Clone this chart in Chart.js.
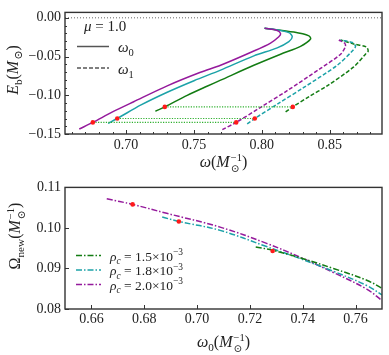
<!DOCTYPE html>
<html><head><meta charset="utf-8">
<script src="https://cdn.jsdelivr.net/npm/chart.js@4.4.1/dist/chart.umd.min.js"></script>
<style>
html,body{margin:0;padding:0;background:#fff;width:389px;height:355px;overflow:hidden}
canvas{position:absolute;left:0}
#top{top:0}
#bot{top:175px}
</style></head><body>
<canvas id="top" width="389" height="175"></canvas>
<canvas id="bot" width="389" height="180"></canvas>
<script>
// ---------- DATA ----------
// Top panel: binding energy vs frequency, mu = 1.0
const topXRange = [0.6550, 0.8885];
const topYRange = [-0.150, 0.007];
const topXTicks = [0.70, 0.75, 0.80, 0.85];
const topYTicks = [0.00, -0.05, -0.10, -0.15];

// rho_c = 2.0e-3 (purple)
const w0_rho20 = [0.6655, 0.6755, 0.6900, 0.7056, 0.7303, 0.7548, 0.7696, 0.7941, 0.8064, 0.8125, 0.8138, 0.8113, 0.8020];
const Eb0_rho20 = [-0.1436, -0.1350, -0.1215, -0.1083, -0.0878, -0.0703, -0.0613, -0.0429, -0.0326, -0.0245, -0.0204, -0.0163, -0.0135];
const w1_rho20 = [0.7709, 0.7811, 0.8000, 0.8187, 0.8432, 0.8580, 0.8616, 0.8609, 0.8567];
const Eb1_rho20 = [-0.1443, -0.1350, -0.1146, -0.0940, -0.0654, -0.0470, -0.0368, -0.0326, -0.0286];
// rho_c = 1.8e-3 (cyan)
const w0_rho18 = [0.6867, 0.6935, 0.7110, 0.7303, 0.7500, 0.7696, 0.7941, 0.8113, 0.8199, 0.8224, 0.8199, 0.8064, 0.8020];
const Eb0_rho18 = [-0.1362, -0.1300, -0.1125, -0.0961, -0.0812, -0.0675, -0.0491, -0.0388, -0.0307, -0.0245, -0.0191, -0.0142, -0.0135];
const w1_rho18 = [0.7892, 0.7948, 0.8120, 0.8309, 0.8555, 0.8666, 0.8690, 0.8666, 0.8580];
const Eb1_rho18 = [-0.1369, -0.1300, -0.1107, -0.0899, -0.0613, -0.0429, -0.0368, -0.0319, -0.0286];
// rho_c = 1.5e-3 (green)
const w0_rho15 = [0.7216, 0.7285, 0.7450, 0.7600, 0.7696, 0.7941, 0.8138, 0.8285, 0.8359, 0.8347, 0.8236, 0.8020];
const Eb0_rho15 = [-0.1206, -0.1150, -0.1001, -0.0880, -0.0805, -0.0613, -0.0470, -0.0368, -0.0274, -0.0233, -0.0184, -0.0135];
const w1_rho15 = [0.8175, 0.8228, 0.8350, 0.8481, 0.8677, 0.8763, 0.8783, 0.8769, 0.8677, 0.8580];
const Eb1_rho15 = [-0.1215, -0.1150, -0.1015, -0.0878, -0.0633, -0.0470, -0.0429, -0.0375, -0.0338, -0.0286];

// marked states (purple, cyan, green)
const markW0 = [0.6755, 0.6935, 0.7285];
const markW1 = [0.7811, 0.7948, 0.8228];
const markEb = [-0.135, -0.130, -0.115];

// Bottom panel: Omega_new vs omega_0
const botXRange = [0.65, 0.77];
const botYRange = [0.08, 0.11];
const botXTicks = [0.66, 0.68, 0.70, 0.72, 0.74, 0.76];
const botYTicks = [0.08, 0.09, 0.10, 0.11];
const seriesLabels = ['1.5', '1.8', '2.0'];

const bw_rho20 = [0.6658, 0.6756, 0.6885, 0.7087, 0.7263, 0.7396, 0.7516, 0.7642, 0.7700];
const bO_rho20 = [0.1072, 0.1058, 0.1036, 0.1002, 0.0962, 0.0926, 0.0890, 0.0849, 0.0821];
const bw_rho18 = [0.6868, 0.6931, 0.7087, 0.7263, 0.7396, 0.7516, 0.7642, 0.7700];
const bO_rho18 = [0.1027, 0.1016, 0.0994, 0.0954, 0.0923, 0.0893, 0.0858, 0.0835];
const bw_rho15 = [0.7222, 0.7286, 0.7396, 0.7516, 0.7642, 0.7700];
const bO_rho15 = [0.0953, 0.0945, 0.0925, 0.0900, 0.0871, 0.0851];
const bMarkW = [0.6756, 0.6931, 0.7286];
const bMarkO = [0.1058, 0.1016, 0.0943];

// ---------- STYLE ----------
const PURPLE = '#951a9c', CYAN = '#1ca2a8', GREEN = '#137c13', RED = '#ff1a1a';
const CONNECT = '#2fb02f';
const SERIF = "'Liberation Serif','DejaVu Serif',serif";
const tickFont = {family: SERIF, size: 14};
const TXT = '#222';

const pts = (xs, ys) => xs.map((x, i) => ({x, y: ys[i]}));
const fmtNum = (v, d) => (v < -1e-9 ? '\u2212' : '') + Math.abs(v).toFixed(d);

function fontStr(it, s) { return (it ? 'italic ' : '') + s.toFixed(1) + 'px ' + SERIF; }
function drawRich(ctx, parts, cx, cy, S, align) {
  const items = parts.map(p => {
    if (p.stack) {
      ctx.font = fontStr(false, S * 0.66);
      return {p, w: Math.max(ctx.measureText(p.sub).width, ctx.measureText(p.sup).width)};
    }
    const s = (p.sub || p.sup) ? S * 0.7 : S;
    ctx.font = fontStr(p.it, s);
    return {p, w: ctx.measureText(p.t).width + (p.sp || 0)};
  });
  const total = items.reduce((a, b) => a + b.w, 0);
  let x = align === 'left' ? cx : cx - total / 2;
  ctx.textAlign = 'left'; ctx.textBaseline = 'alphabetic'; ctx.fillStyle = TXT;
  const base = cy + S * 0.33;
  for (const it of items) {
    const p = it.p;
    if (p.stack) {
      ctx.font = fontStr(false, S * 0.66);
      ctx.fillText(p.sub, x, base + S * 0.28);
      ctx.fillText(p.sup, x, base - S * 0.42);
    } else {
      const s = (p.sub || p.sup) ? S * 0.7 : S;
      ctx.font = fontStr(p.it, s);
      const dy = p.sub ? S * 0.25 : (p.sup ? -S * 0.42 : 0);
      ctx.fillText(p.t, x, base + dy);
    }
    x += it.w;
  }
}
function drawRotRich(ctx, parts, cx, cy, S) {
  ctx.save(); ctx.translate(cx, cy); ctx.rotate(-Math.PI / 2);
  drawRich(ctx, parts, 0, 0, S, 'center'); ctx.restore();
}
function drawFrameAndTicks(chart, xMinorStep, yMinorStep) {
  const {ctx, chartArea: a, scales: {x, y}} = chart;
  ctx.save();
  ctx.strokeStyle = '#333'; ctx.lineWidth = 1; ctx.setLineDash([]);
  ctx.beginPath();
  x.ticks.forEach(t => { const px = Math.round(x.getPixelForValue(t.value)) + 0.5; ctx.moveTo(px, a.bottom); ctx.lineTo(px, a.bottom - 4); });
  y.ticks.forEach(t => { const py = Math.round(y.getPixelForValue(t.value)) + 0.5; ctx.moveTo(a.left, py); ctx.lineTo(a.left + 4, py); });
  if (xMinorStep) {
    for (let v = Math.ceil(x.min / xMinorStep) * xMinorStep; v <= x.max; v += xMinorStep) {
      const px = Math.round(x.getPixelForValue(v)) + 0.5; ctx.moveTo(px, a.bottom); ctx.lineTo(px, a.bottom - 2);
    }
  }
  if (yMinorStep) {
    for (let v = Math.ceil(y.min / yMinorStep) * yMinorStep; v <= y.max; v += yMinorStep) {
      const py = Math.round(y.getPixelForValue(v)) + 0.5; ctx.moveTo(a.left, py); ctx.lineTo(a.left + 2, py);
    }
  }
  ctx.stroke();
  ctx.strokeStyle = '#333'; ctx.lineWidth = 1.4;
  ctx.strokeRect(a.left, a.top, a.right - a.left, a.bottom - a.top);
  ctx.restore();
}

const lineDS = (xs, ys, color, dash, extra) => Object.assign({
  data: pts(xs, ys), showLine: true, borderColor: color, backgroundColor: color,
  borderWidth: 1.5, borderDash: dash || [], pointRadius: 0, tension: 0.3, fill: false
}, extra || {});
const dotDS = (xs, ys) => ({
  data: pts(xs, ys), showLine: false, pointRadius: 2.3, pointStyle: 'circle',
  backgroundColor: RED, borderColor: RED, borderWidth: 0
});

const scaleCommon = (range, ticks, fmtD, fitKey, fitVal, pad) => ({
  type: 'linear', min: range[0], max: range[1],
  afterFit: s => { s[fitKey] = fitVal; },
  afterBuildTicks: s => { s.ticks = ticks.map(v => ({value: v})); },
  grid: {display: false, drawTicks: false}, border: {display: false},
  ticks: {padding: pad, font: tickFont, color: TXT, maxRotation: 0, autoSkip: false, callback: v => fmtNum(v, fmtD)}
});

// ---------- TOP CHART ----------
const topDecor = {
  id: 'topDecor',
  beforeDatasetsDraw(chart) {
    const {ctx, chartArea: a, scales: {y}} = chart;
    const py = y.getPixelForValue(0);
    ctx.save(); ctx.strokeStyle = '#555'; ctx.lineWidth = 0.9; ctx.setLineDash([1, 2]);
    ctx.beginPath(); ctx.moveTo(a.left, py); ctx.lineTo(a.right, py); ctx.stroke(); ctx.restore();
  },
  afterDraw(chart) {
    const {ctx, chartArea: a} = chart;
    drawFrameAndTicks(chart, 0.01, 0.01);
    drawRich(ctx, [{t: '\u03c9', it: 1}, {t: '('}, {t: 'M', it: 1, sp: 1}, {stack: 1, sub: '\u2299', sup: '\u22121'}, {t: ')'}],
      (a.left + a.right) / 2, 162, 16, 'center');
    drawRotRich(ctx, [{t: 'E', it: 1}, {t: 'b', sub: 1}, {t: '('}, {t: 'M', it: 1, sp: 1}, {t: '\u2299', sub: 1}, {t: ')'}], 13, 70, 16);
    ctx.save();
    drawRich(ctx, [{t: '\u03bc', it: 1}, {t: ' = 1.0'}], 84, 26, 15, 'left');
    ctx.strokeStyle = '#555'; ctx.lineWidth = 1.5;
    ctx.beginPath(); ctx.moveTo(77, 46.5); ctx.lineTo(109, 46.5); ctx.stroke();
    ctx.setLineDash([4, 2]);
    ctx.beginPath(); ctx.moveTo(77, 68); ctx.lineTo(109, 68); ctx.stroke();
    ctx.setLineDash([]);
    drawRich(ctx, [{t: '\u03c9', it: 1}, {t: '0', sub: 1}], 118, 47, 15, 'left');
    drawRich(ctx, [{t: '\u03c9', it: 1}, {t: '1', sub: 1}], 118, 69, 15, 'left');
    ctx.restore();
  }
};

const connectDS = markEb.map((e, i) => ({
  data: [{x: markW0[i], y: e}, {x: markW1[i], y: e}], showLine: true, borderColor: CONNECT,
  borderWidth: 1.1, borderDash: [1.2, 1.4], pointRadius: 0, fill: false
}));

new Chart(document.getElementById('top'), {
  type: 'scatter',
  data: {datasets: [
    dotDS(markW0, markEb), dotDS(markW1, markEb),
    ...connectDS,
    lineDS(w0_rho20, Eb0_rho20, PURPLE), lineDS(w0_rho18, Eb0_rho18, CYAN), lineDS(w0_rho15, Eb0_rho15, GREEN),
    lineDS(w1_rho20, Eb1_rho20, PURPLE, [4, 2]), lineDS(w1_rho18, Eb1_rho18, CYAN, [4, 2]), lineDS(w1_rho15, Eb1_rho15, GREEN, [4, 2])
  ]},
  options: {
    responsive: false, animation: false,
    layout: {padding: {top: 6, right: 7, left: 0, bottom: 0}},
    plugins: {legend: {display: false}, tooltip: {enabled: false}},
    scales: {
      x: scaleCommon(topXRange, topXTicks, 2, 'height', 41, 3),
      y: scaleCommon(topYRange, topYTicks, 2, 'width', 65, 4)
    }
  },
  plugins: [topDecor]
});

// ---------- BOTTOM CHART ----------
const DASHDOT = [6, 2, 1.5, 2];
const botColors = [GREEN, CYAN, PURPLE];
const botDecor = {
  id: 'botDecor',
  afterDraw(chart) {
    const {ctx, chartArea: a} = chart;
    drawFrameAndTicks(chart, 0, 0);
    drawRich(ctx, [{t: '\u03c9', it: 1}, {t: '0', sub: 1}, {t: '('}, {t: 'M', it: 1, sp: 1}, {stack: 1, sub: '\u2299', sup: '\u22121'}, {t: ')'}],
      (a.left + a.right) / 2, 167, 16, 'center');
    drawRotRich(ctx, [{t: '\u03a9'}, {t: 'new', sub: 1}, {t: '('}, {t: 'M', it: 1, sp: 1}, {stack: 1, sub: '\u2299', sup: '\u22121'}, {t: ')'}], 15, 61, 16);
    const rows = [80.5, 95, 109.5];
    seriesLabels.forEach((lab, i) => {
      ctx.save();
      ctx.strokeStyle = botColors[i]; ctx.lineWidth = 1.5; ctx.setLineDash(DASHDOT);
      ctx.beginPath(); ctx.moveTo(76, rows[i]); ctx.lineTo(101, rows[i]); ctx.stroke();
      ctx.restore();
      drawRich(ctx, [{t: '\u03c1', it: 1}, {t: 'c', it: 1, sub: 1}, {t: ' = ' + lab + '\u00d710'}, {t: '\u22123', sup: 1}], 110, rows[i] + 1, 13.5, 'left');
    });
  }
};

new Chart(document.getElementById('bot'), {
  type: 'scatter',
  data: {datasets: [
    dotDS(bMarkW, bMarkO),
    lineDS(bw_rho15, bO_rho15, GREEN, DASHDOT, {tension: 0.4}),
    lineDS(bw_rho18, bO_rho18, CYAN, DASHDOT, {tension: 0.4}),
    lineDS(bw_rho20, bO_rho20, PURPLE, DASHDOT, {tension: 0.4})
  ]},
  options: {
    responsive: false, animation: false,
    layout: {padding: {top: 7, right: 7, left: 0, bottom: 0}},
    plugins: {legend: {display: false}, tooltip: {enabled: false}},
    scales: {
      x: scaleCommon(botXRange, botXTicks, 2, 'height', 46, 2),
      y: scaleCommon(botYRange, botYTicks, 2, 'width', 65, 4)
    }
  },
  plugins: [botDecor]
});
</script>
</body></html>
